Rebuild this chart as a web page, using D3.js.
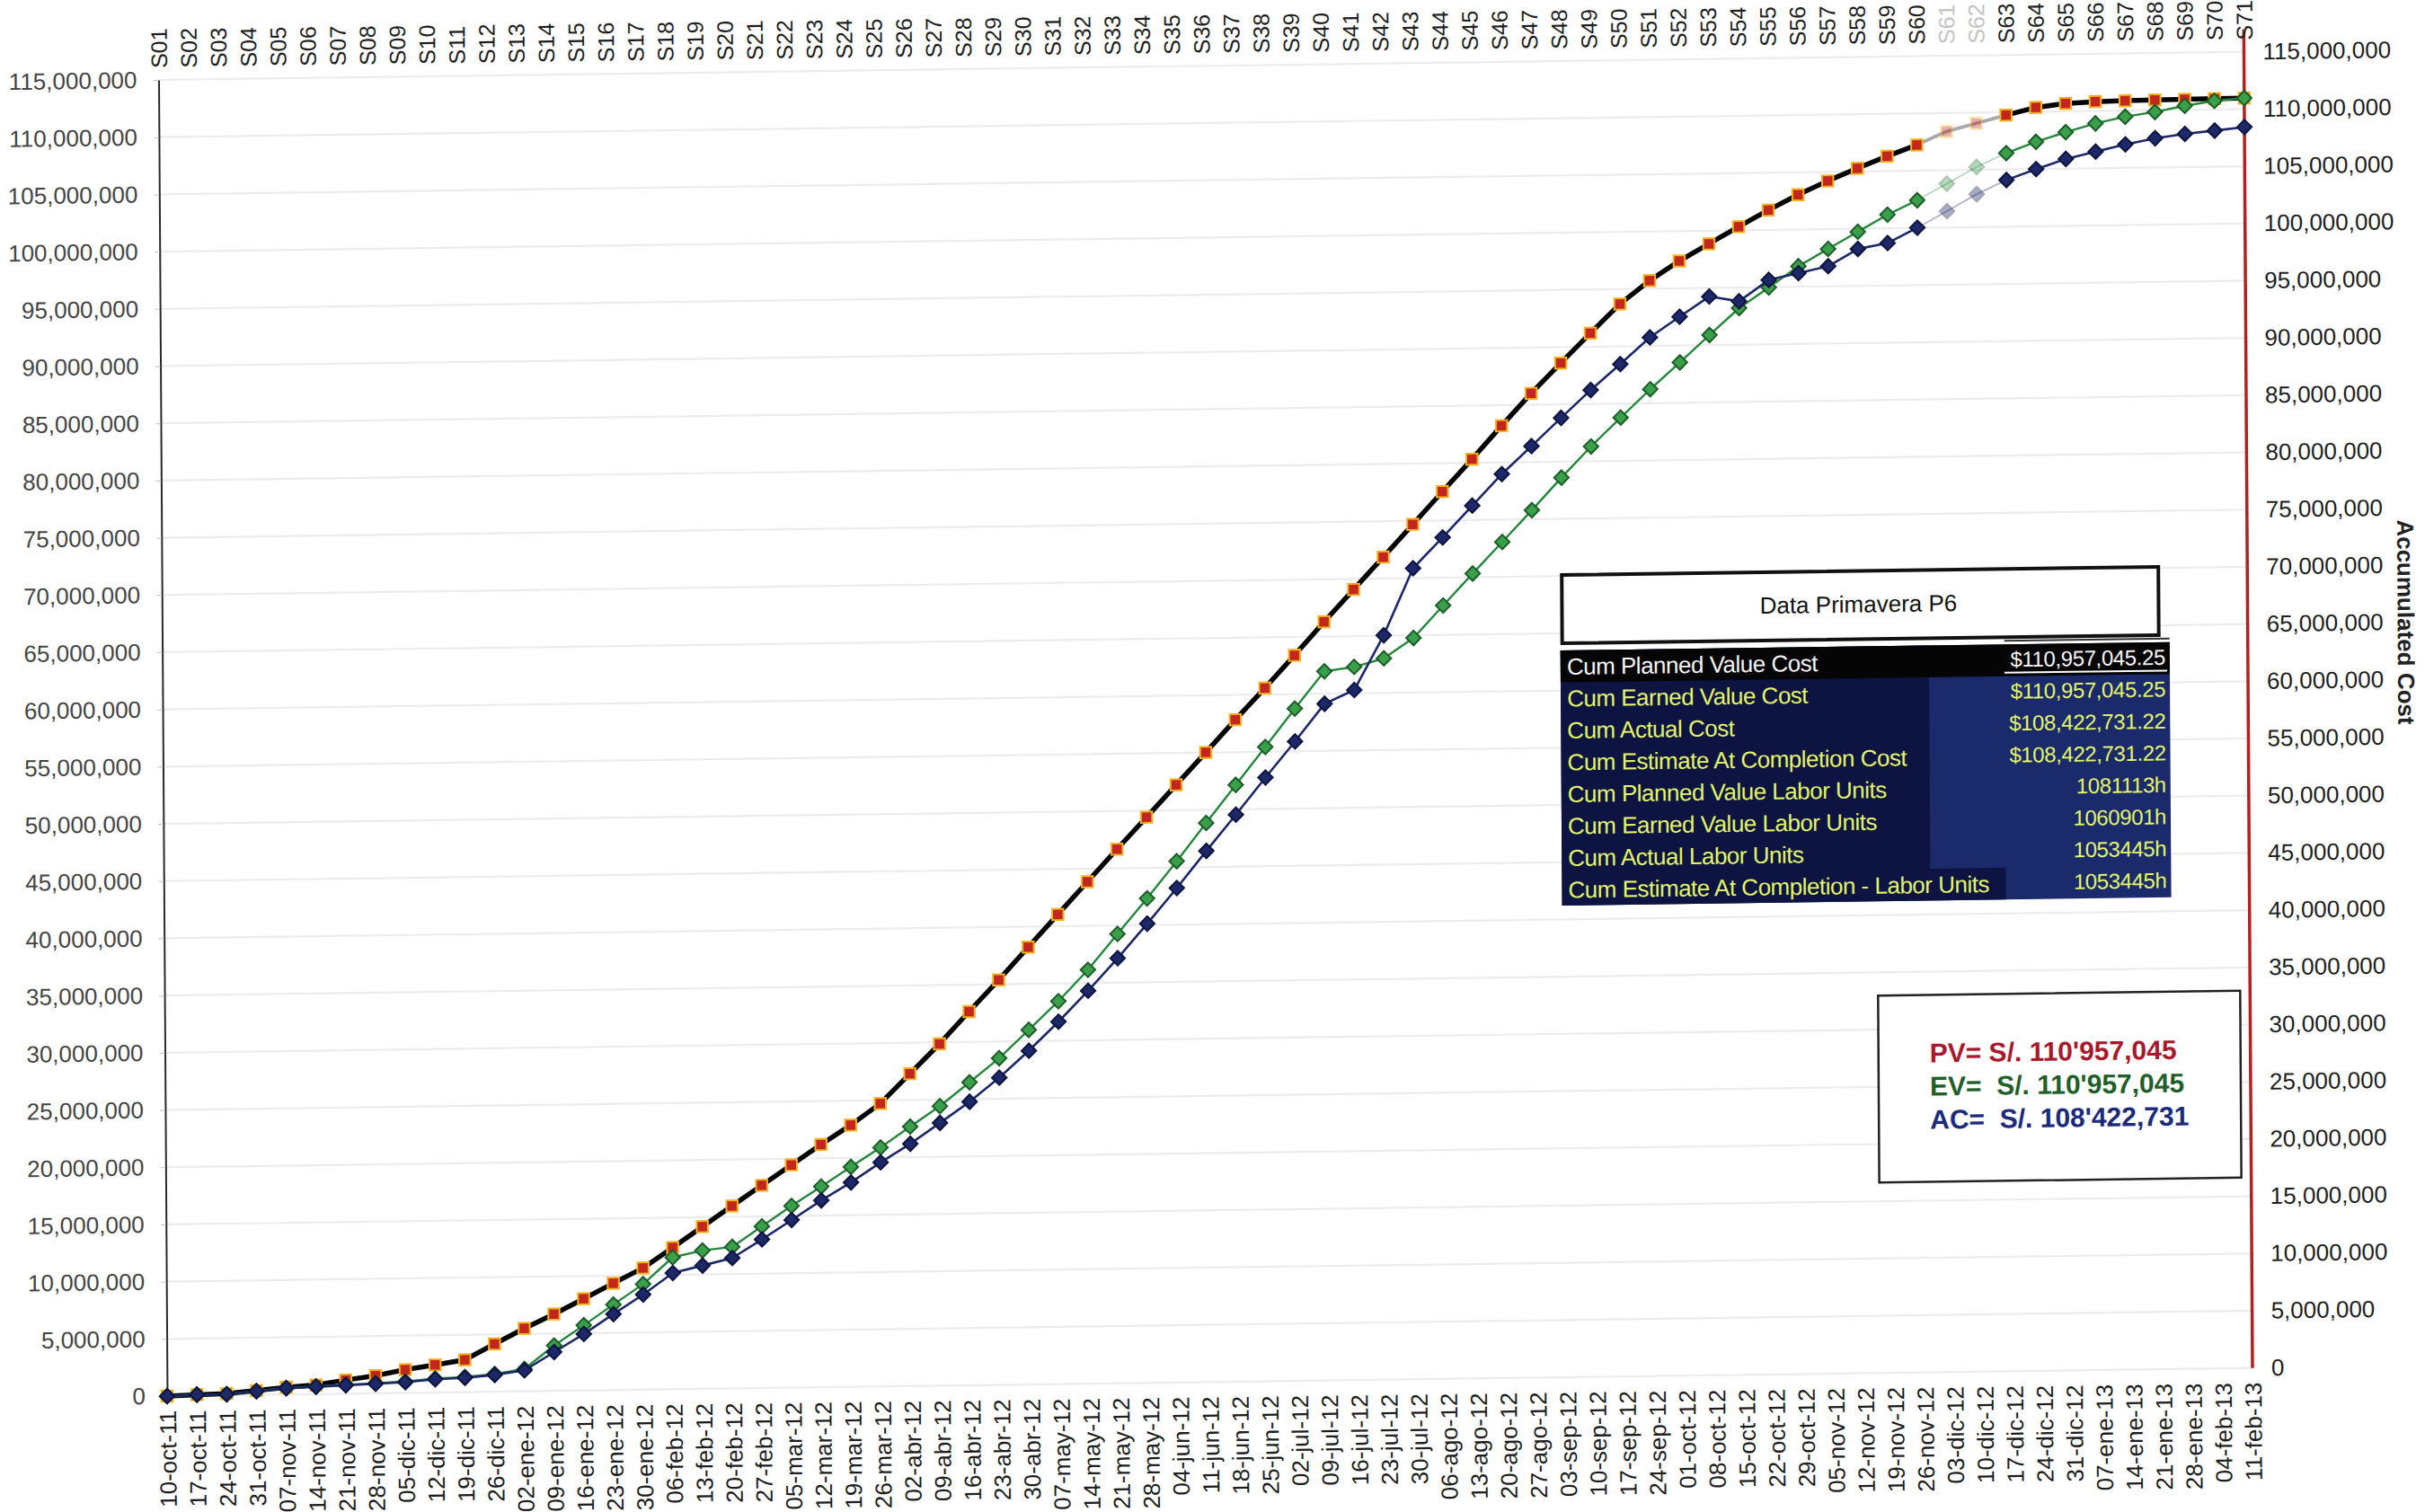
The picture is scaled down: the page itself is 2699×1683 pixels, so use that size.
<!DOCTYPE html>
<html>
<head>
<meta charset="utf-8">
<script src="https://cdn.jsdelivr.net/npm/d3@7"></script>
<style>
  html, body { margin: 0; padding: 0; background: #fff; }
  svg { display: block; }
  text { font-family: "Liberation Sans", Arial, sans-serif; }
</style>
</head>
<body>
<svg id="chart" width="2699" height="1683"></svg>
<script>
// Weekly reporting periods (sprint codes along the top, Monday dates along the bottom)
const sprints = ["S01","S02","S03","S04","S05","S06","S07","S08","S09","S10","S11","S12","S13","S14","S15","S16","S17","S18","S19","S20",
  "S21","S22","S23","S24","S25","S26","S27","S28","S29","S30","S31","S32","S33","S34","S35","S36","S37","S38","S39","S40",
  "S41","S42","S43","S44","S45","S46","S47","S48","S49","S50","S51","S52","S53","S54","S55","S56","S57","S58","S59","S60",
  "S61","S62","S63","S64","S65","S66","S67","S68","S69","S70","S71"];

const weeks = ["10-oct-11","17-oct-11","24-oct-11","31-oct-11","07-nov-11","14-nov-11","21-nov-11","28-nov-11","05-dic-11","12-dic-11",
  "19-dic-11","26-dic-11","02-ene-12","09-ene-12","16-ene-12","23-ene-12","30-ene-12","06-feb-12","13-feb-12","20-feb-12",
  "27-feb-12","05-mar-12","12-mar-12","19-mar-12","26-mar-12","02-abr-12","09-abr-12","16-abr-12","23-abr-12","30-abr-12",
  "07-may-12","14-may-12","21-may-12","28-may-12","04-jun-12","11-jun-12","18-jun-12","25-jun-12","02-jul-12","09-jul-12",
  "16-jul-12","23-jul-12","30-jul-12","06-ago-12","13-ago-12","20-ago-12","27-ago-12","03-sep-12","10-sep-12","17-sep-12",
  "24-sep-12","01-oct-12","08-oct-12","15-oct-12","22-oct-12","29-oct-12","05-nov-12","12-nov-12","19-nov-12","26-nov-12",
  "03-dic-12","10-dic-12","17-dic-12","24-dic-12","31-dic-12","07-ene-13","14-ene-13","21-ene-13","28-ene-13","04-feb-13",
  "11-feb-13"];

// Cumulative values, millions of soles
const plannedValue = [0, 0.09, 0.15, 0.38, 0.63, 0.80, 1.19, 1.54, 2.03, 2.41, 2.82,
  4.17, 5.49, 6.71, 8.01, 9.33, 10.63, 12.38, 14.17, 15.95, 17.71,
  19.46, 21.21, 22.87, 24.72, 27.29, 29.86, 32.65, 35.38, 38.21, 41.03,
  43.85, 46.66, 49.42, 52.21, 55.01, 57.84, 60.57, 63.39, 66.28, 69.08,
  71.87, 74.69, 77.52, 80.32, 83.21, 86.00, 88.61, 91.19, 93.70, 95.71,
  97.39, 98.85, 100.31, 101.73, 103.04, 104.21, 105.28, 106.30, 107.25, 108.39,
  109.07, 109.75, 110.38, 110.70, 110.82, 110.87, 110.90, 110.92, 110.94, 110.957045];

const earnedValue = [0, 0.09, 0.10, 0.34, 0.57, 0.67, 0.78, 0.88, 0.99, 1.21, 1.32,
  1.55, 1.95, 3.96, 5.70, 7.47, 9.22, 11.53, 12.09, 12.37, 14.13,
  15.88, 17.54, 19.22, 20.88, 22.67, 24.42, 26.47, 28.54, 30.98, 33.45,
  36.16, 39.26, 42.33, 45.54, 48.85, 52.14, 55.42, 58.74, 61.96, 62.31,
  63.02, 64.77, 67.57, 70.33, 73.05, 75.79, 78.60, 81.29, 83.78, 86.22,
  88.53, 90.89, 93.20, 94.97, 96.79, 98.27, 99.73, 101.19, 102.42, 103.83,
  105.26, 106.43, 107.38, 108.19, 108.92, 109.47, 109.85, 110.35, 110.75, 110.957045];

const actualCost = [0, 0.09, 0.09, 0.32, 0.55, 0.64, 0.74, 0.83, 0.93, 1.15, 1.25,
  1.47, 1.83, 3.39, 4.94, 6.64, 8.31, 10.16, 10.78, 11.40, 12.99,
  14.65, 16.33, 17.86, 19.58, 21.17, 22.96, 24.77, 26.84, 29.16, 31.66,
  34.33, 37.14, 40.12, 43.20, 46.41, 49.54, 52.75, 55.87, 59.12, 60.29,
  65.04, 70.86, 73.52, 76.26, 78.98, 81.39, 83.82, 86.22, 88.45, 90.75,
  92.52, 94.25, 93.80, 95.63, 96.19, 96.76, 98.23, 98.71, 100.02, 101.43,
  102.88, 104.08, 105.00, 105.85, 106.45, 107.05, 107.55, 107.90, 108.15, 108.422731];

// Axis ticks, millions of soles
const yTickValues = [0, 5, 10, 15, 20, 25, 30, 35, 40, 45, 50, 55, 60, 65, 70, 75, 80, 85, 90, 95, 100, 105, 110, 115];

// Weeks whose marks print washed out
const fadedSprints = ["S61", "S62"];

// Primavera P6 export summary
const p6Labels = ["Cum Planned Value Cost", "Cum Earned Value Cost", "Cum Actual Cost", "Cum Estimate At Completion Cost",
  "Cum Planned Value Labor Units", "Cum Earned Value Labor Units", "Cum Actual Labor Units", "Cum Estimate At Completion - Labor Units"];
const p6Values = ["$110,957,045.25", "$110,957,045.25", "$108,422,731.22", "$108,422,731.22",
  "1081113h", "1060901h", "1053445h", "1053445h"];

// Final totals
const summaryLines = ["PV= S/. 110'957,045", "EV=  S/. 110'957,045", "AC=  S/. 108'422,731"];

// ---------------------------------------------------------------------------
const svg = d3.select("#chart");
svg.append("rect").attr("width", 2699).attr("height", 1683).attr("fill", "#ffffff");

const plotLeft = 186, plotRight = 2507, plotBottom = 1554, plotTop = 89;

// the printed sheet sits slightly askew
const root = svg.append("g")
  .attr("transform", `translate(${plotLeft},${plotBottom}) matrix(1,-0.0135,0.0065,1,0,0) translate(${-plotLeft},${-plotBottom})`);

const x = d3.scalePoint().domain(sprints).range([plotLeft, plotRight]);
const xWeek = d3.scalePoint().domain(weeks).range([plotLeft, plotRight]);
const y = d3.scaleLinear().domain([0, 115]).range([plotBottom, plotTop]);
const fmt = d => d3.format(",")(Math.round(d * 1e6));
const axisFont = "Liberation Sans, Arial, sans-serif";

// gridlines
root.append("g").selectAll("line").data(yTickValues).join("line")
  .attr("x1", plotLeft).attr("x2", plotRight)
  .attr("y1", d => y(d)).attr("y2", d => y(d))
  .attr("stroke", "#ececec").attr("stroke-width", 2.2);

// left value axis
root.append("g").attr("transform", `translate(${plotLeft},0)`)
  .call(d3.axisLeft(y).tickValues(yTickValues).tickFormat(fmt).tickSize(6).tickSizeOuter(0).tickPadding(18))
  .call(g => g.select(".domain").attr("stroke", "#2a2a2a").attr("stroke-width", 2))
  .call(g => g.selectAll(".tick line").attr("stroke", "#c4c4c4"))
  .call(g => g.selectAll("text").attr("font-size", 26).attr("fill", "#444").attr("font-family", axisFont));

// right value axis (red)
root.append("g").attr("transform", `translate(${plotRight},0)`)
  .call(d3.axisRight(y).tickValues(yTickValues).tickFormat(fmt).tickSize(0).tickPadding(21))
  .call(g => g.select(".domain").remove())
  .call(g => g.selectAll("text").attr("font-size", 26).attr("fill", "#1e1e1e").attr("font-family", axisFont));
root.append("line")
  .attr("x1", plotRight).attr("x2", plotRight).attr("y1", 64).attr("y2", plotBottom)
  .attr("stroke", "#b32020").attr("stroke-width", 3.5);

// sprint codes on top
root.append("g").attr("transform", `translate(0,${plotTop})`)
  .call(d3.axisTop(x).tickSize(0))
  .call(g => g.select(".domain").remove())
  .call(g => g.selectAll("text")
    .attr("transform", "rotate(-90)").attr("x", 13).attr("y", 0).attr("dy", "0.36em")
    .attr("text-anchor", "start").attr("font-size", 25)
    .attr("fill", d => fadedSprints.includes(d) ? "#c4c4c4" : "#1e1e1e")
    .attr("font-family", axisFont));

// week dates at the bottom
root.append("g").attr("transform", `translate(0,${plotBottom})`)
  .call(d3.axisBottom(xWeek).tickSize(0))
  .call(g => g.select(".domain").remove())
  .call(g => g.selectAll("text")
    .attr("transform", "rotate(-90)").attr("x", -16).attr("y", 0).attr("dy", "0.36em")
    .attr("text-anchor", "end").attr("font-size", 26).attr("fill", "#1e1e1e")
    .attr("font-family", axisFont));

// secondary axis title along the right edge
root.append("text")
  .attr("transform", "translate(2674,612) rotate(90)")
  .attr("font-size", 26).attr("font-weight", "bold").attr("fill", "#222")
  .text("Accumulated Cost");

// ---------------------------------------------------------------------------
// series
const series = [
  { key: "PV", values: plannedValue, line: "#050505", width: 5.5, shape: "square", side: 12.5, fill: "#c3261c", stroke: "#f2b322" },
  { key: "EV", values: earnedValue, line: "#24873b", width: 2.4, shape: "diamond", side: 11.5, fill: "#3a9f49", stroke: "#1c5d29" },
  { key: "AC", values: actualCost, line: "#1b2766", width: 2.6, shape: "diamond", side: 11.5, fill: "#1d2869", stroke: "#0d143f" }
];

const isFaded = i => fadedSprints.includes(sprints[i]);
const fadeFrom = sprints.indexOf(fadedSprints[0]) - 1;
const fadeTo = sprints.indexOf(fadedSprints[fadedSprints.length - 1]) + 1;

series.forEach(s => {
  const g = root.append("g").attr("class", "series-" + s.key);
  const idx = d3.range(s.values.length);

  const line = d3.line().x(i => x(sprints[i])).y(i => y(s.values[i]));
  g.append("path")
    .attr("d", line.defined(i => !isFaded(i))(idx))
    .attr("fill", "none").attr("stroke", s.line).attr("stroke-width", s.width)
    .attr("stroke-linejoin", "round");
  g.append("path")
    .attr("d", d3.line().x(i => x(sprints[i])).y(i => y(s.values[i]))(d3.range(fadeFrom, fadeTo + 1)))
    .attr("fill", "none").attr("stroke", s.line).attr("stroke-width", s.width * 0.7)
    .attr("stroke-opacity", 0.35);

  const sym = d3.symbol(d3.symbolSquare, s.side * s.side);
  g.selectAll("path.mark").data(idx).join("path")
    .attr("class", "mark")
    .attr("d", sym)
    .attr("transform", i => `translate(${x(sprints[i])},${y(s.values[i])})` + (s.shape === "diamond" ? " rotate(45)" : ""))
    .attr("fill", s.fill).attr("stroke", s.stroke).attr("stroke-width", 2)
    .attr("opacity", i => isFaded(i) ? 0.38 : 1);
});

// ---------------------------------------------------------------------------
// Primavera P6 panel
const panel = root.append("g");
panel.append("rect")
  .attr("x", 1744).attr("y", 661).attr("width", 664).attr("height", 76)
  .attr("fill", "#fff").attr("stroke", "#111").attr("stroke-width", 4);
panel.append("text")
  .attr("x", 2074).attr("y", 707).attr("text-anchor", "middle")
  .attr("font-family", "Lato, 'Open Sans', sans-serif").attr("font-size", 26).attr("fill", "#111")
  .text("Data Primavera P6");

const tblX = 1742, tblY = 745, tblW = 678, rowH = 35.5, splitX = 2152, valX = 2236;
panel.append("rect").attr("x", tblX).attr("y", tblY).attr("width", tblW).attr("height", rowH * p6Labels.length).attr("fill", "#1a2a6b");
panel.append("rect").attr("x", tblX).attr("y", tblY).attr("width", splitX - tblX).attr("height", rowH * p6Labels.length).attr("fill", "#0d1441");
panel.append("rect").attr("x", splitX).attr("y", tblY + rowH * (p6Labels.length - 1)).attr("width", valX - splitX).attr("height", rowH).attr("fill", "#0d1441");
panel.append("rect").attr("x", tblX).attr("y", tblY).attr("width", tblW).attr("height", rowH).attr("fill", "#050505");
panel.append("line").attr("x1", valX).attr("x2", tblX + tblW).attr("y1", tblY - 4).attr("y2", tblY - 4).attr("stroke", "#333").attr("stroke-width", 2);
panel.append("line").attr("x1", valX).attr("x2", tblX + tblW - 3).attr("y1", tblY + rowH - 4).attr("y2", tblY + rowH - 4).attr("stroke", "#fff").attr("stroke-width", 2);

panel.selectAll("text.lbl").data(p6Labels).join("text")
  .attr("class", "lbl")
  .attr("x", tblX + 7).attr("y", (d, i) => tblY + i * rowH + 27)
  .attr("font-size", 26).attr("letter-spacing", -0.5)
  .attr("fill", (d, i) => i === 0 ? "#f4f4f4" : "#e2f46a")
  .text(d => d);
panel.selectAll("text.val").data(p6Values).join("text")
  .attr("class", "val")
  .attr("x", tblX + tblW - 5).attr("y", (d, i) => tblY + i * rowH + 25)
  .attr("text-anchor", "end")
  .attr("font-size", 24).attr("letter-spacing", -0.4)
  .attr("fill", (d, i) => i === 0 ? "#f4f4f4" : "#e2f46a")
  .text(d => d);

// totals box
const totals = root.append("g");
totals.append("rect")
  .attr("x", 2093).attr("y", 1134).attr("width", 403).attr("height", 208)
  .attr("fill", "#fff").attr("stroke", "#222").attr("stroke-width", 2.5);
const totalColors = ["#a8192d", "#1f5f2a", "#1c2a7c"];
totals.selectAll("text").data(summaryLines).join("text")
  .attr("x", 2150).attr("y", (d, i) => 1209 + i * 37)
  .attr("font-size", 30).attr("font-weight", "bold")
  .attr("fill", (d, i) => totalColors[i])
  .style("white-space", "pre")
  .text(d => d);
</script>
</body>
</html>
